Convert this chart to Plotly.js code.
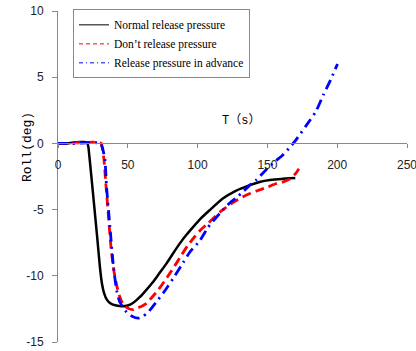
<!DOCTYPE html>
<html>
<head>
<meta charset="utf-8">
<script src="https://cdn.plot.ly/plotly-3.0.1.min.js"></script>
<style>html,body{margin:0;padding:0;background:#fff;}#chart{width:416px;height:351px;}</style>
</head>
<body>
<div id="chart"></div>
<script>
const seriesNames = ["Normal release pressure", "Don\u2019t release pressure", "Release pressure in advance"];

const normalT = [0, 5, 10, 15, 19, 21, 21.8, 22.5, 24, 26, 28, 30, 31.5, 33, 35, 37.2, 40, 44, 48, 52, 55, 58.7, 63, 68.2, 73, 77.8, 82.5, 87.3, 92, 96.9, 102, 108.8, 118.3, 127, 137.4, 145, 151.8, 160, 170];
const normalRoll = [0, 0, 0.05, 0.1, 0.1, 0.05, -0.3, -1.0, -2.6, -4.8, -7.0, -9.3, -10.6, -11.3, -11.8, -12.05, -12.2, -12.28, -12.28, -12.15, -11.95, -11.6, -11.1, -10.45, -9.75, -9.06, -8.3, -7.55, -6.9, -6.3, -5.7, -5.03, -4.15, -3.6, -3.15, -2.9, -2.77, -2.68, -2.62];

const holdT = [0, 5, 10, 15, 20, 25, 29, 31, 32, 33, 34, 36, 38, 40, 42, 44, 46.8, 50, 53.7, 56.3, 60, 63.4, 67.5, 71.8, 76, 80.2, 84.5, 88.5, 93, 97.9, 102.5, 107.4, 117, 125.5, 134, 142.2, 150, 156, 161.3, 166, 170, 174.4];
const holdRoll = [0, 0, 0.02, 0.05, 0.08, 0.1, 0.08, 0, -0.5, -1.3, -2.7, -5.3, -7.9, -9.6, -10.7, -11.5, -12.2, -12.45, -12.55, -12.45, -12.3, -12.08, -11.6, -11.07, -10.45, -9.8, -9.1, -8.43, -7.7, -7.05, -6.5, -6.04, -5.1, -4.45, -3.95, -3.6, -3.3, -3.05, -2.9, -2.7, -2.3, -1.6];

const advanceT = [0, 10, 20, 28, 30.5, 32, 33.6, 34.8, 37.2, 39.6, 42, 44, 46.7, 49.2, 53, 57.5, 61, 64.6, 67, 71, 75.4, 79, 82.5, 88.5, 94.5, 101.6, 107.4, 112, 117.1, 123, 129, 133, 137.4, 142.2, 149.4, 155, 161.3, 166, 170.4, 178, 184.7, 190, 195.2, 200.2];
const advanceRoll = [0, 0, 0.05, 0.05, 0, -0.4, -1.2, -3.3, -6.3, -9.2, -11.1, -11.9, -12.4, -12.75, -13.05, -13.2, -13.05, -12.75, -12.45, -11.9, -11.3, -10.75, -10.2, -9.2, -8.2, -7.35, -6.35, -5.75, -5.15, -4.5, -4.0, -3.6, -3.15, -2.75, -1.95, -1.4, -0.85, -0.3, 0.25, 1.38, 2.4, 3.65, 4.78, 6.0];

const xTickVals = [0, 50, 100, 150, 200, 250];
const xTickText = ["0", "50", "100", "150", "200", "250"];
const yTickVals = [-15, -10, -5, 0, 5, 10];
const yTickText = ["-15", "-10", "-5", "0", "5", "10"];

const colors = ["#000000", "#ff0000", "#0000ff"];
const dashes = ["solid", "9px,5px", "10px,5px,2px,5px"];
const widths = [2.5, 2.8, 2.8];
const xs = [normalT, holdT, advanceT];
const ys = [normalRoll, holdRoll, advanceRoll];

const data = [];
for (let i = 0; i < 3; i++) {
  data.push({
    x: xs[i], y: ys[i], type: "scatter", mode: "lines",
    line: {color: colors[i], width: widths[i], dash: dashes[i], shape: "spline", smoothing: 0.5},
    showlegend: false, hoverinfo: "skip"
  });
}
const legendDash = ["solid", "4px,3px", "4px,3px,1px,3px"];
for (let i = 0; i < 3; i++) {
  data.push({
    x: [null], y: [null], type: "scatter", mode: "lines", name: seriesNames[i],
    line: {color: colors[i], width: 1, dash: legendDash[i]}
  });
}

const tickFont = {family: "Liberation Sans, Arial, sans-serif", size: 12, color: "#222"};
const layout = {
  width: 416, height: 351,
  margin: {l: 58, r: 9, t: 11, b: 9},
  paper_bgcolor: "#fff", plot_bgcolor: "#fff",
  showlegend: true,
  xaxis: {
    range: [0, 250], tickvals: xTickVals, ticktext: xTickText,
    anchor: "free", position: 0.6,
    showline: true, linecolor: "#888", linewidth: 1,
    ticks: "outside", ticklen: 4, tickcolor: "#888",
    ticklabelstandoff: 6, ticklabeloverflow: "allow",
    showgrid: false, zeroline: false, tickfont: tickFont, fixedrange: true
  },
  yaxis: {
    range: [-15, 10], tickvals: yTickVals, ticktext: yTickText,
    showline: true, linecolor: "#888", linewidth: 1,
    ticks: "outside", ticklen: 5, tickcolor: "#888",
    ticklabelstandoff: 6,
    showgrid: false, zeroline: false, tickfont: tickFont, fixedrange: true
  },
  legend: {
    x: 0.043, y: 1.005, xanchor: "left", yanchor: "top",
    bgcolor: "#fff", bordercolor: "#888", borderwidth: 1,
    font: {family: "Liberation Serif, Times New Roman, serif", size: 11.5, color: "#000"},
    itemwidth: 30, tracegroupgap: 0
  },
  annotations: [
    {text: "T\uff08s\uff09", xref: "paper", yref: "paper", x: 0.525, y: 0.668,
     xanchor: "center", yanchor: "middle", showarrow: false,
     font: {family: "Liberation Mono, Noto Sans CJK SC, monospace", size: 12, color: "#000"}},
    {text: "Roll(deg)", xref: "paper", yref: "paper", x: -0.0888, y: 0.589,
     xanchor: "center", yanchor: "middle", showarrow: false, textangle: -90,
     font: {family: "Liberation Mono, monospace", size: 13, color: "#000"}}
  ]
};
Plotly.newPlot("chart", data, layout, {displayModeBar: false, staticPlot: true});
</script>
</body>
</html>
